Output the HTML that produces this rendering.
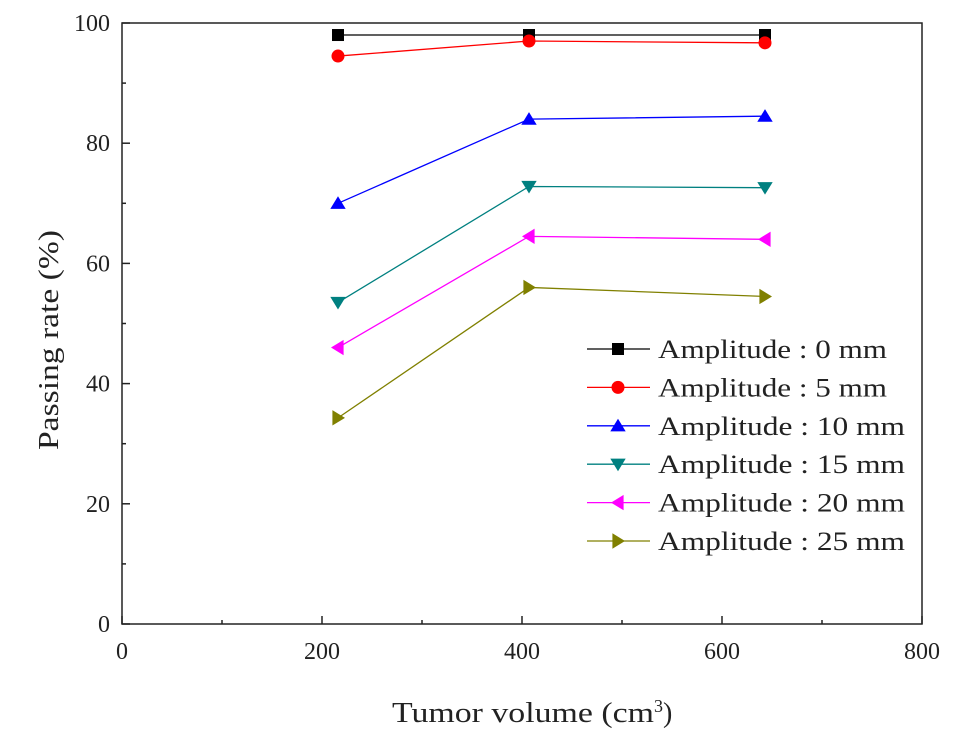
<!DOCTYPE html>
<html><head><meta charset="utf-8"><style>
body{margin:0;background:#fff;}
svg text{font-family:"Liberation Serif",serif;fill:#222;}
</style></head><body>
<svg id="chart" width="969" height="741" xmlns="http://www.w3.org/2000/svg"></svg>
<script>
const xValues=[216,407,643];
const seriesNames=["Amplitude : 0 mm","Amplitude : 5 mm","Amplitude : 10 mm","Amplitude : 15 mm","Amplitude : 20 mm","Amplitude : 25 mm"];
const s0=[98,98,98];
const s1=[94.5,97,96.7];
const s2=[70,84,84.5];
const s3=[53.5,72.8,72.6];
const s4=[46,64.5,64];
const s5=[34.3,56,54.5];
const xTicks=[0,200,400,600,800];
const yTicks=[0,20,40,60,80,100];
const series=[s0,s1,s2,s3,s4,s5];
const colors=["#000","#f00","#00f","#008080","#f0f","#808000"];
const markers=["square","circle","up","down","left","right"];
const L=122,R=922,T=23,B=624;
const xs=v=>L+(v-0)/800*(R-L);
const ys=v=>B-(v-0)/100*(B-T);
const svg=document.getElementById('chart');
const NS="http://www.w3.org/2000/svg";
function mk(tag,at,parent){const e=document.createElementNS(NS,tag);for(const k in at)e.setAttribute(k,at[k]);(parent||svg).appendChild(e);return e;}
function marker(type,x,y,c,g){
  const r=7;let e;
  if(type==="square")e=mk('rect',{x:x-6,y:y-6,width:12,height:12,fill:c},g);
  else if(type==="circle")e=mk('circle',{cx:x,cy:y,r:6.5,fill:c},g);
  else{let p;
    if(type==="up")p=[[x,y-r],[x-r*1.1,y+r*0.8],[x+r*1.1,y+r*0.8]];
    if(type==="down")p=[[x,y+r],[x-r*1.1,y-r*0.8],[x+r*1.1,y-r*0.8]];
    if(type==="left")p=[[x-r,y],[x+r*0.8,y-r*1.1],[x+r*0.8,y+r*1.1]];
    if(type==="right")p=[[x+r,y],[x-r*0.8,y-r*1.1],[x-r*0.8,y+r*1.1]];
    e=mk('polygon',{points:p.map(q=>q.join(',')).join(' '),fill:c},g);}
  
  
}
const frame=mk('rect',{x:L,y:T,width:R-L,height:B-T,fill:'none',stroke:'#222','stroke-width':1.5});


const xa=mk('g',{});


for(let v=0;v<=800;v+=100){const major=v%200===0;mk('line',{x1:xs(v),x2:xs(v),y1:B,y2:B-(major?8:4),stroke:'#222','stroke-width':1.5},xa);}
xTicks.forEach(v=>{const t=mk('text',{x:xs(v),y:B+35,'text-anchor':'middle','font-size':24},xa);t.textContent=v;

});
const ya=mk('g',{});


for(let v=0;v<=100;v+=10){const major=v%20===0;mk('line',{x1:L,x2:L+(major?8:4),y1:ys(v),y2:ys(v),stroke:'#222','stroke-width':1.5},ya);}
yTicks.forEach(v=>{const t=mk('text',{x:L-12,y:ys(v)+8,'text-anchor':'end','font-size':24},ya);t.textContent=v;

});
const xt=mk('text',{x:392,y:722,'font-size':28});
xt.innerHTML='<tspan textLength="262" lengthAdjust="spacingAndGlyphs">Tumor volume (cm</tspan><tspan dy="-10" font-size="18">3</tspan><tspan dy="10">)</tspan>';


const yt=mk('text',{x:0,y:0,'font-size':28,textLength:220,lengthAdjust:'spacingAndGlyphs',transform:'translate(58,450) rotate(-90)'});
yt.textContent='Passing rate (%)';


series.forEach((s,i)=>{
  const g=mk('g',{});
  
  
  mk('polyline',{points:s.map((v,j)=>xs(xValues[j])+','+ys(v)).join(' '),fill:'none',stroke:colors[i],'stroke-width':1.3},g);
  s.forEach((v,j)=>marker(markers[i],xs(xValues[j]),ys(v),colors[i],g));
  const ly=349+i*38.4;
  const lg=mk('g',{});
  
  
  mk('line',{x1:587,x2:650,y1:ly,y2:ly,stroke:colors[i],'stroke-width':1.3},lg);
  marker(markers[i],618,ly,colors[i],lg);
  const t=mk('text',{x:658,y:ly+9,'font-size':26,textLength:(i<2?229:247),lengthAdjust:'spacingAndGlyphs'},lg);t.textContent=seriesNames[i];
});
</script>
</body></html>
